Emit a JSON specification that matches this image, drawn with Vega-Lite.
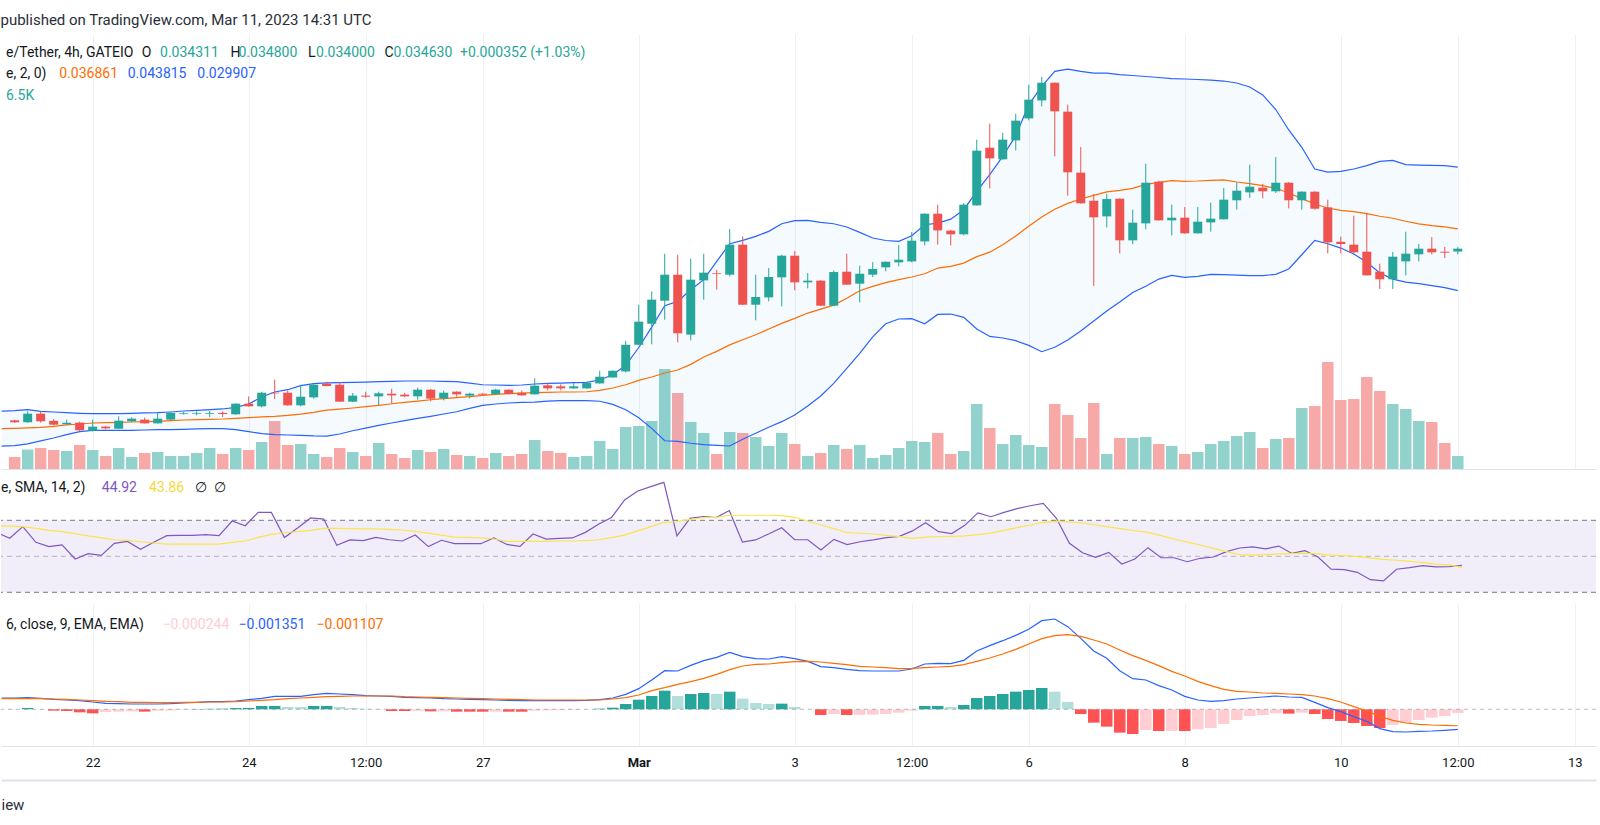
{
  "$schema": "https://vega.github.io/schema/vega-lite/v6.json",
  "description": "Token/Tether 4h candles with Bollinger bands, volume, RSI and MACD panes.",
  "background": "white",
  "padding": {"top": 13, "left": 0, "right": 0, "bottom": 0},
  "bounds": "flush",
  "spacing": 0,
  "title": {"text": "published on TradingView.com, Mar 11, 2023 14:31 UTC", "anchor": "start", "font": "Roboto", "fontSize": 15, "fontWeight": "normal", "color": "#2a2e39", "offset": 6},
  "data": {"values": [
    {"t":"2023-02-20T20:00:00Z","bu":0.01633,"bm":0.01436,"bl":0.0124,"rsi":63.3,"rma":67.0,"macd":0.00076,"sig":0.000716,"hist":0.00004},
    {"t":"2023-02-21T00:00:00Z","o":0.0153,"h":0.01538,"l":0.015,"c":0.01508,"v":24,"bu":0.01639,"bm":0.0144,"bl":0.01245,"rsi":60.0,"rma":66.8,"macd":0.00076,"sig":0.000716,"hist":0.00002},
    {"t":"2023-02-21T04:00:00Z","o":0.01508,"h":0.01631,"l":0.01504,"c":0.01605,"v":39,"bu":0.0165,"bm":0.01444,"bl":0.01264,"rsi":66.5,"rma":66.5,"macd":0.000783,"sig":0.000716,"hist":0.0000875},
    {"t":"2023-02-21T08:00:00Z","o":0.01605,"h":0.01628,"l":0.01504,"c":0.01519,"v":42,"bu":0.01631,"bm":0.01451,"bl":0.01298,"rsi":57.8,"rma":65.5,"macd":0.000738,"sig":0.000716,"hist":0.00002},
    {"t":"2023-02-21T12:00:00Z","o":0.01524,"h":0.01545,"l":0.01474,"c":0.01481,"v":38,"bu":0.01624,"bm":0.01463,"bl":0.01331,"rsi":55.4,"rma":64.4,"macd":0.000671,"sig":0.000693,"hist":-0.000092},
    {"t":"2023-02-21T16:00:00Z","o":0.01485,"h":0.01538,"l":0.01481,"c":0.01504,"v":36,"bu":0.01616,"bm":0.01478,"bl":0.01369,"rsi":56.3,"rma":63.7,"macd":0.000626,"sig":0.000671,"hist":-0.000114},
    {"t":"2023-02-21T20:00:00Z","o":0.01504,"h":0.01515,"l":0.01406,"c":0.01418,"v":48,"bu":0.01609,"bm":0.01489,"bl":0.01403,"rsi":48.5,"rma":62.6,"macd":0.000581,"sig":0.000626,"hist":-0.000204},
    {"t":"2023-02-22T00:00:00Z","o":0.01414,"h":0.01538,"l":0.01403,"c":0.01459,"v":38,"bu":0.01605,"bm":0.015,"bl":0.01418,"rsi":51.5,"rma":61.3,"macd":0.000491,"sig":0.000581,"hist":-0.000271},
    {"t":"2023-02-22T04:00:00Z","o":0.01459,"h":0.0147,"l":0.01429,"c":0.0144,"v":26,"bu":0.01605,"bm":0.01504,"bl":0.01418,"rsi":50.5,"rma":60.2,"macd":0.000402,"sig":0.000536,"hist":-0.000182},
    {"t":"2023-02-22T08:00:00Z","o":0.01436,"h":0.01575,"l":0.01433,"c":0.01526,"v":42,"bu":0.01605,"bm":0.01508,"bl":0.01418,"rsi":57.2,"rma":59.2,"macd":0.000379,"sig":0.000514,"hist":-0.000159},
    {"t":"2023-02-22T12:00:00Z","o":0.01519,"h":0.01564,"l":0.01511,"c":0.01549,"v":24,"bu":0.01609,"bm":0.01511,"bl":0.01418,"rsi":58.3,"rma":58.9,"macd":0.000357,"sig":0.000469,"hist":-0.000137},
    {"t":"2023-02-22T16:00:00Z","o":0.01538,"h":0.0156,"l":0.01493,"c":0.01496,"v":32,"bu":0.01613,"bm":0.01515,"bl":0.01421,"rsi":53.9,"rma":58.1,"macd":0.000357,"sig":0.000469,"hist":-0.000159},
    {"t":"2023-02-22T20:00:00Z","o":0.01496,"h":0.01613,"l":0.01493,"c":0.01549,"v":34,"bu":0.01616,"bm":0.01519,"bl":0.01425,"rsi":57.8,"rma":57.4,"macd":0.000357,"sig":0.000446,"hist":-0.000092},
    {"t":"2023-02-23T00:00:00Z","o":0.01538,"h":0.0162,"l":0.01534,"c":0.01613,"v":26,"bu":0.01624,"bm":0.01526,"bl":0.01425,"rsi":61.5,"rma":56.8,"macd":0.000379,"sig":0.000446,"hist":-0.00008},
    {"t":"2023-02-23T04:00:00Z","o":0.01601,"h":0.01624,"l":0.01594,"c":0.01609,"v":26,"bu":0.01635,"bm":0.01534,"bl":0.01429,"rsi":61.6,"rma":56.8,"macd":0.000424,"sig":0.000469,"hist":0.00001},
    {"t":"2023-02-23T08:00:00Z","o":0.01605,"h":0.01631,"l":0.01586,"c":0.01613,"v":32,"bu":0.01643,"bm":0.01538,"bl":0.01433,"rsi":61.6,"rma":56.8,"macd":0.000469,"sig":0.000469,"hist":0.00002},
    {"t":"2023-02-23T12:00:00Z","o":0.01605,"h":0.01635,"l":0.01568,"c":0.01613,"v":42,"bu":0.0165,"bm":0.01541,"bl":0.01436,"rsi":62.0,"rma":56.8,"macd":0.000514,"sig":0.000491,"hist":0.00003},
    {"t":"2023-02-23T16:00:00Z","o":0.01613,"h":0.01631,"l":0.01568,"c":0.01601,"v":30,"bu":0.01658,"bm":0.01545,"bl":0.01436,"rsi":61.5,"rma":56.8,"macd":0.000514,"sig":0.000491,"hist":0.00004},
    {"t":"2023-02-23T20:00:00Z","o":0.01598,"h":0.01721,"l":0.01594,"c":0.01718,"v":42,"bu":0.01676,"bm":0.01553,"bl":0.01425,"rsi":69.6,"rma":57.7,"macd":0.000559,"sig":0.000514,"hist":0.000085},
    {"t":"2023-02-24T00:00:00Z","o":0.01718,"h":0.018,"l":0.01684,"c":0.01688,"v":38,"bu":0.01714,"bm":0.0156,"bl":0.01403,"rsi":67.0,"rma":58.5,"macd":0.000648,"sig":0.000559,"hist":0.00009},
    {"t":"2023-02-24T04:00:00Z","o":0.01688,"h":0.01853,"l":0.01676,"c":0.01841,"v":54,"bu":0.01793,"bm":0.01568,"bl":0.0138,"rsi":74.4,"rma":60.5,"macd":0.000738,"sig":0.000603,"hist":0.000222},
    {"t":"2023-02-24T08:00:00Z","o":0.01841,"h":0.01988,"l":0.0177,"c":0.01834,"v":96,"bu":0.01849,"bm":0.01575,"bl":0.01369,"rsi":74.4,"rma":62.2,"macd":0.000873,"sig":0.000648,"hist":0.000225},
    {"t":"2023-02-24T12:00:00Z","o":0.01841,"h":0.01864,"l":0.01695,"c":0.01699,"v":48,"bu":0.01875,"bm":0.01586,"bl":0.01365,"rsi":60.4,"rma":63.1,"macd":0.000873,"sig":0.000716,"hist":0.000155},
    {"t":"2023-02-24T16:00:00Z","o":0.01699,"h":0.01931,"l":0.01688,"c":0.01796,"v":50,"bu":0.0192,"bm":0.01601,"bl":0.01361,"rsi":65.7,"rma":63.7,"macd":0.000873,"sig":0.00076,"hist":0.00015},
    {"t":"2023-02-24T20:00:00Z","o":0.01789,"h":0.01943,"l":0.01774,"c":0.01931,"v":30,"bu":0.01943,"bm":0.0162,"bl":0.01354,"rsi":71.3,"rma":64.4,"macd":0.000985,"sig":0.000805,"hist":0.000222},
    {"t":"2023-02-25T00:00:00Z","o":0.01943,"h":0.01965,"l":0.01913,"c":0.01916,"v":24,"bu":0.01952,"bm":0.01644,"bl":0.01352,"rsi":70.7,"rma":65.5,"macd":0.001074,"sig":0.00085,"hist":0.000225},
    {"t":"2023-02-25T04:00:00Z","o":0.01931,"h":0.01961,"l":0.01736,"c":0.0174,"v":42,"bu":0.01954,"bm":0.01657,"bl":0.01376,"rsi":56.1,"rma":65.5,"macd":0.00103,"sig":0.000873,"hist":0.000155},
    {"t":"2023-02-25T08:00:00Z","o":0.0174,"h":0.01837,"l":0.01736,"c":0.01808,"v":34,"bu":0.01958,"bm":0.01669,"bl":0.01413,"rsi":59.1,"rma":65.4,"macd":0.000985,"sig":0.000895,"hist":0.0000875},
    {"t":"2023-02-25T12:00:00Z","o":0.01808,"h":0.01852,"l":0.01785,"c":0.01796,"v":26,"bu":0.01961,"bm":0.01684,"bl":0.01443,"rsi":58.7,"rma":65.2,"macd":0.000917,"sig":0.000895,"hist":0.00004},
    {"t":"2023-02-25T16:00:00Z","o":0.018,"h":0.01852,"l":0.01699,"c":0.01834,"v":52,"bu":0.01965,"bm":0.01699,"bl":0.01473,"rsi":60.5,"rma":65.2,"macd":0.000895,"sig":0.000895,"hist":-0.00001},
    {"t":"2023-02-25T20:00:00Z","o":0.0183,"h":0.01886,"l":0.01721,"c":0.01811,"v":30,"bu":0.01969,"bm":0.01717,"bl":0.015,"rsi":59.2,"rma":65.0,"macd":0.000873,"sig":0.000895,"hist":-0.000114},
    {"t":"2023-02-26T00:00:00Z","o":0.01819,"h":0.01841,"l":0.01792,"c":0.018,"v":22,"bu":0.01973,"bm":0.01732,"bl":0.01526,"rsi":58.5,"rma":64.6,"macd":0.000805,"sig":0.00085,"hist":-0.000115},
    {"t":"2023-02-26T04:00:00Z","o":0.018,"h":0.01898,"l":0.01762,"c":0.01875,"v":38,"bu":0.01973,"bm":0.01747,"bl":0.01552,"rsi":61.8,"rma":63.9,"macd":0.000783,"sig":0.000828,"hist":-0.00011},
    {"t":"2023-02-26T08:00:00Z","o":0.01875,"h":0.01883,"l":0.01744,"c":0.01774,"v":34,"bu":0.01973,"bm":0.01762,"bl":0.01575,"rsi":55.4,"rma":62.9,"macd":0.00076,"sig":0.000805,"hist":-0.000137},
    {"t":"2023-02-26T12:00:00Z","o":0.01777,"h":0.01864,"l":0.01755,"c":0.01841,"v":40,"bu":0.01969,"bm":0.01774,"bl":0.01601,"rsi":58.9,"rma":61.8,"macd":0.000716,"sig":0.000783,"hist":-0.00013},
    {"t":"2023-02-26T16:00:00Z","o":0.01853,"h":0.01856,"l":0.01796,"c":0.01823,"v":28,"bu":0.01965,"bm":0.01785,"bl":0.01627,"rsi":57.0,"rma":60.7,"macd":0.000693,"sig":0.00076,"hist":-0.000159},
    {"t":"2023-02-26T20:00:00Z","o":0.01808,"h":0.01841,"l":0.01777,"c":0.0183,"v":26,"bu":0.0195,"bm":0.01796,"bl":0.01665,"rsi":57.0,"rma":60.5,"macd":0.000671,"sig":0.000738,"hist":-0.00016},
    {"t":"2023-02-27T00:00:00Z","o":0.0183,"h":0.01837,"l":0.01811,"c":0.01819,"v":22,"bu":0.01931,"bm":0.01811,"bl":0.01699,"rsi":57.0,"rma":60.2,"macd":0.000648,"sig":0.000716,"hist":-0.000161},
    {"t":"2023-02-27T04:00:00Z","o":0.01826,"h":0.01886,"l":0.01823,"c":0.01875,"v":32,"bu":0.01928,"bm":0.01822,"bl":0.01714,"rsi":60.2,"rma":59.6,"macd":0.000626,"sig":0.000693,"hist":-0.000155},
    {"t":"2023-02-27T08:00:00Z","o":0.01875,"h":0.01879,"l":0.01823,"c":0.01826,"v":26,"bu":0.01924,"bm":0.0183,"bl":0.01725,"rsi":56.6,"rma":58.3,"macd":0.000603,"sig":0.000671,"hist":-0.00016},
    {"t":"2023-02-27T12:00:00Z","o":0.01841,"h":0.01864,"l":0.01808,"c":0.01811,"v":30,"bu":0.01928,"bm":0.01837,"bl":0.01732,"rsi":55.5,"rma":58.3,"macd":0.000581,"sig":0.000648,"hist":-0.000162},
    {"t":"2023-02-27T16:00:00Z","o":0.01823,"h":0.02003,"l":0.01819,"c":0.0192,"v":58,"bu":0.01939,"bm":0.01841,"bl":0.01736,"rsi":62.4,"rma":58.3,"macd":0.000581,"sig":0.000626,"hist":-0.000092},
    {"t":"2023-02-27T20:00:00Z","o":0.01924,"h":0.0195,"l":0.01868,"c":0.0189,"v":36,"bu":0.01946,"bm":0.01845,"bl":0.01747,"rsi":59.6,"rma":58.3,"macd":0.000581,"sig":0.000626,"hist":-0.00007},
    {"t":"2023-02-28T00:00:00Z","o":0.01913,"h":0.01935,"l":0.01868,"c":0.0189,"v":32,"bu":0.0195,"bm":0.01849,"bl":0.01751,"rsi":60.0,"rma":58.5,"macd":0.000581,"sig":0.000626,"hist":-0.00006},
    {"t":"2023-02-28T04:00:00Z","o":0.0189,"h":0.0195,"l":0.01883,"c":0.01913,"v":24,"bu":0.01954,"bm":0.01849,"bl":0.01751,"rsi":60.2,"rma":58.5,"macd":0.000581,"sig":0.000626,"hist":-0.00005},
    {"t":"2023-02-28T08:00:00Z","o":0.0189,"h":0.01965,"l":0.01886,"c":0.0195,"v":26,"bu":0.01958,"bm":0.01852,"bl":0.01751,"rsi":63.3,"rma":58.7,"macd":0.000603,"sig":0.000626,"hist":-0.00001},
    {"t":"2023-02-28T12:00:00Z","o":0.01946,"h":0.02088,"l":0.01943,"c":0.02021,"v":56,"bu":0.01984,"bm":0.01867,"bl":0.01745,"rsi":67.8,"rma":59.2,"macd":0.000648,"sig":0.000626,"hist":0.00004},
    {"t":"2023-02-28T16:00:00Z","o":0.02013,"h":0.02092,"l":0.0201,"c":0.02088,"v":40,"bu":0.02044,"bm":0.01894,"bl":0.0171,"rsi":71.6,"rma":60.4,"macd":0.00076,"sig":0.000693,"hist":0.00011},
    {"t":"2023-02-28T20:00:00Z","o":0.02081,"h":0.02426,"l":0.0207,"c":0.02381,"v":84,"bu":0.0215,"bm":0.01931,"bl":0.0165,"rsi":81.3,"rma":61.8,"macd":0.001007,"sig":0.000783,"hist":0.000357},
    {"t":"2023-03-01T00:00:00Z","o":0.02381,"h":0.02832,"l":0.02381,"c":0.02641,"v":86,"bu":0.0235,"bm":0.0198,"bl":0.0156,"rsi":86.3,"rma":64.1,"macd":0.001388,"sig":0.000962,"hist":0.000648},
    {"t":"2023-03-01T04:00:00Z","o":0.02618,"h":0.0298,"l":0.02386,"c":0.02889,"v":96,"bu":0.0258,"bm":0.02018,"bl":0.0144,"rsi":88.7,"rma":66.5,"macd":0.001972,"sig":0.001254,"hist":0.000895},
    {"t":"2023-03-01T08:00:00Z","o":0.02877,"h":0.03406,"l":0.02663,"c":0.0317,"v":200,"bu":0.0282,"bm":0.02063,"bl":0.013,"rsi":91.1,"rma":68.9,"macd":0.0026,"sig":0.001456,"hist":0.001254},
    {"t":"2023-03-01T12:00:00Z","o":0.0317,"h":0.03394,"l":0.02408,"c":0.0251,"v":152,"bu":0.02869,"bm":0.02097,"bl":0.01294,"rsi":61.3,"rma":69.2,"macd":0.002577,"sig":0.00168,"hist":0.000895},
    {"t":"2023-03-01T16:00:00Z","o":0.02495,"h":0.03351,"l":0.0243,"c":0.03114,"v":94,"bu":0.03001,"bm":0.0216,"bl":0.01272,"rsi":71.1,"rma":70.5,"macd":0.002959,"sig":0.001859,"hist":0.00103},
    {"t":"2023-03-01T20:00:00Z","o":0.03106,"h":0.03406,"l":0.02889,"c":0.03193,"v":72,"bu":0.03114,"bm":0.02243,"bl":0.01256,"rsi":72.0,"rma":71.5,"macd":0.003273,"sig":0.002084,"hist":0.001097},
    {"t":"2023-03-02T00:00:00Z","o":0.03189,"h":0.03226,"l":0.03001,"c":0.03181,"v":30,"bu":0.0332,"bm":0.02307,"bl":0.01249,"rsi":71.5,"rma":71.6,"macd":0.003497,"sig":0.002353,"hist":0.00103},
    {"t":"2023-03-02T04:00:00Z","o":0.0317,"h":0.03684,"l":0.03151,"c":0.03508,"v":74,"bu":0.03519,"bm":0.0238,"bl":0.01241,"rsi":75.4,"rma":72.8,"macd":0.003833,"sig":0.002667,"hist":0.001187},
    {"t":"2023-03-02T08:00:00Z","o":0.03508,"h":0.03602,"l":0.02828,"c":0.02832,"v":72,"bu":0.03557,"bm":0.02438,"bl":0.01317,"rsi":57.9,"rma":72.8,"macd":0.003542,"sig":0.002914,"hist":0.000716},
    {"t":"2023-03-02T12:00:00Z","o":0.02832,"h":0.0317,"l":0.02656,"c":0.02919,"v":64,"bu":0.03601,"bm":0.02494,"bl":0.01384,"rsi":59.1,"rma":72.8,"macd":0.003407,"sig":0.003026,"hist":0.000424},
    {"t":"2023-03-02T16:00:00Z","o":0.02915,"h":0.03245,"l":0.0287,"c":0.03144,"v":46,"bu":0.03658,"bm":0.02558,"bl":0.01452,"rsi":62.4,"rma":72.8,"macd":0.003385,"sig":0.003049,"hist":0.000357},
    {"t":"2023-03-02T20:00:00Z","o":0.0314,"h":0.03394,"l":0.02813,"c":0.03384,"v":72,"bu":0.03744,"bm":0.02622,"bl":0.01515,"rsi":65.9,"rma":72.6,"macd":0.003542,"sig":0.003138,"hist":0.00038},
    {"t":"2023-03-03T00:00:00Z","o":0.03384,"h":0.03436,"l":0.02994,"c":0.03084,"v":50,"bu":0.03778,"bm":0.02678,"bl":0.0159,"rsi":59.2,"rma":71.6,"macd":0.003407,"sig":0.003206,"hist":0.000155},
    {"t":"2023-03-03T04:00:00Z","o":0.03084,"h":0.03189,"l":0.03016,"c":0.03103,"v":26,"bu":0.03782,"bm":0.02738,"bl":0.01691,"rsi":59.2,"rma":69.6,"macd":0.003228,"sig":0.003228,"hist":0.000005},
    {"t":"2023-03-03T08:00:00Z","o":0.03103,"h":0.0311,"l":0.02817,"c":0.02821,"v":32,"bu":0.03759,"bm":0.02783,"bl":0.01804,"rsi":53.5,"rma":67.4,"macd":0.002869,"sig":0.003183,"hist":-0.000384},
    {"t":"2023-03-03T12:00:00Z","o":0.02821,"h":0.03219,"l":0.02817,"c":0.032,"v":48,"bu":0.03744,"bm":0.02828,"bl":0.01947,"rsi":59.4,"rma":65.4,"macd":0.002801,"sig":0.003094,"hist":-0.000316},
    {"t":"2023-03-03T16:00:00Z","o":0.03204,"h":0.03406,"l":0.03054,"c":0.03058,"v":40,"bu":0.03707,"bm":0.02904,"bl":0.02116,"rsi":56.5,"rma":63.1,"macd":0.002689,"sig":0.003004,"hist":-0.000384},
    {"t":"2023-03-03T20:00:00Z","o":0.03069,"h":0.03271,"l":0.02859,"c":0.03181,"v":48,"bu":0.03647,"bm":0.0299,"bl":0.02285,"rsi":58.1,"rma":62.8,"macd":0.0026,"sig":0.002892,"hist":-0.00037},
    {"t":"2023-03-04T00:00:00Z","o":0.0317,"h":0.03312,"l":0.03144,"c":0.03234,"v":22,"bu":0.03583,"bm":0.03039,"bl":0.0247,"rsi":59.1,"rma":62.4,"macd":0.002577,"sig":0.002847,"hist":-0.00036},
    {"t":"2023-03-04T04:00:00Z","o":0.03253,"h":0.0332,"l":0.03208,"c":0.03316,"v":28,"bu":0.03555,"bm":0.0308,"bl":0.02618,"rsi":60.4,"rma":61.6,"macd":0.002577,"sig":0.002802,"hist":-0.000316},
    {"t":"2023-03-04T08:00:00Z","o":0.03309,"h":0.03504,"l":0.03264,"c":0.03339,"v":42,"bu":0.03545,"bm":0.03114,"bl":0.02671,"rsi":61.1,"rma":60.9,"macd":0.002577,"sig":0.002735,"hist":-0.000227},
    {"t":"2023-03-04T12:00:00Z","o":0.0332,"h":0.0365,"l":0.03309,"c":0.03553,"v":56,"bu":0.03609,"bm":0.03144,"bl":0.02675,"rsi":64.1,"rma":60.0,"macd":0.002712,"sig":0.002757,"hist":-0.000092},
    {"t":"2023-03-04T16:00:00Z","o":0.03545,"h":0.03861,"l":0.035,"c":0.03857,"v":54,"bu":0.03733,"bm":0.03181,"bl":0.02618,"rsi":68.7,"rma":60.7,"macd":0.003049,"sig":0.002802,"hist":0.000222},
    {"t":"2023-03-04T20:00:00Z","o":0.03857,"h":0.03958,"l":0.03508,"c":0.03669,"v":72,"bu":0.03751,"bm":0.03245,"bl":0.02723,"rsi":63.7,"rma":60.9,"macd":0.003093,"sig":0.002847,"hist":0.000225},
    {"t":"2023-03-05T00:00:00Z","o":0.03666,"h":0.03677,"l":0.035,"c":0.03625,"v":30,"bu":0.03796,"bm":0.03264,"bl":0.02727,"rsi":62.6,"rma":61.1,"macd":0.003071,"sig":0.002891,"hist":0.000155},
    {"t":"2023-03-05T04:00:00Z","o":0.03625,"h":0.03977,"l":0.03613,"c":0.03959,"v":36,"bu":0.03902,"bm":0.03301,"bl":0.02689,"rsi":67.2,"rma":61.3,"macd":0.003295,"sig":0.003004,"hist":0.00029},
    {"t":"2023-03-05T08:00:00Z","o":0.03951,"h":0.04691,"l":0.03948,"c":0.04567,"v":130,"bu":0.04109,"bm":0.03373,"bl":0.02558,"rsi":74.1,"rma":62.0,"macd":0.003923,"sig":0.003228,"hist":0.00076},
    {"t":"2023-03-05T12:00:00Z","o":0.046,"h":0.0487,"l":0.04142,"c":0.0448,"v":82,"bu":0.04296,"bm":0.03424,"bl":0.02475,"rsi":72.0,"rma":62.9,"macd":0.004282,"sig":0.003452,"hist":0.000895},
    {"t":"2023-03-05T16:00:00Z","o":0.04469,"h":0.04769,"l":0.04465,"c":0.04691,"v":50,"bu":0.04503,"bm":0.03508,"bl":0.02457,"rsi":74.4,"rma":64.4,"macd":0.004618,"sig":0.003721,"hist":0.00103},
    {"t":"2023-03-05T20:00:00Z","o":0.04683,"h":0.04983,"l":0.0457,"c":0.04905,"v":68,"bu":0.04736,"bm":0.03606,"bl":0.02427,"rsi":76.5,"rma":65.9,"macd":0.004977,"sig":0.004035,"hist":0.001187},
    {"t":"2023-03-06T00:00:00Z","o":0.0493,"h":0.0531,"l":0.04908,"c":0.05141,"v":48,"bu":0.05085,"bm":0.03715,"bl":0.02374,"rsi":78.1,"rma":67.4,"macd":0.005381,"sig":0.004394,"hist":0.001299},
    {"t":"2023-03-06T04:00:00Z","o":0.05133,"h":0.05396,"l":0.05066,"c":0.05332,"v":44,"bu":0.05291,"bm":0.0382,"bl":0.02303,"rsi":79.4,"rma":68.9,"macd":0.005964,"sig":0.004753,"hist":0.001433},
    {"t":"2023-03-06T08:00:00Z","o":0.05332,"h":0.05336,"l":0.04503,"c":0.0501,"v":130,"bu":0.0546,"bm":0.03908,"bl":0.02353,"rsi":71.1,"rma":69.4,"macd":0.006076,"sig":0.004955,"hist":0.001187},
    {"t":"2023-03-06T12:00:00Z","o":0.05006,"h":0.05085,"l":0.0406,"c":0.04323,"v":108,"bu":0.05486,"bm":0.03973,"bl":0.02435,"rsi":57.2,"rma":69.1,"macd":0.005561,"sig":0.005022,"hist":0.000491},
    {"t":"2023-03-06T16:00:00Z","o":0.04319,"h":0.04608,"l":0.0397,"c":0.03974,"v":62,"bu":0.0546,"bm":0.04022,"bl":0.02536,"rsi":52.0,"rma":68.5,"macd":0.004776,"sig":0.004911,"hist":-0.000316},
    {"t":"2023-03-06T20:00:00Z","o":0.04003,"h":0.04079,"l":0.03044,"c":0.03816,"v":132,"bu":0.05441,"bm":0.04064,"bl":0.02649,"rsi":49.4,"rma":67.4,"macd":0.003923,"sig":0.004664,"hist":-0.0009},
    {"t":"2023-03-07T00:00:00Z","o":0.03827,"h":0.04082,"l":0.03703,"c":0.04022,"v":30,"bu":0.05441,"bm":0.04102,"bl":0.02761,"rsi":52.2,"rma":66.3,"macd":0.00343,"sig":0.004394,"hist":-0.001168},
    {"t":"2023-03-07T04:00:00Z","o":0.04026,"h":0.0403,"l":0.0341,"c":0.03557,"v":62,"bu":0.05424,"bm":0.0412,"bl":0.02863,"rsi":45.7,"rma":65.2,"macd":0.0026,"sig":0.003991,"hist":-0.001572},
    {"t":"2023-03-07T08:00:00Z","o":0.03557,"h":0.03902,"l":0.03512,"c":0.03756,"v":62,"bu":0.05413,"bm":0.04143,"bl":0.0297,"rsi":48.5,"rma":64.2,"macd":0.002061,"sig":0.003609,"hist":-0.001662},
    {"t":"2023-03-07T12:00:00Z","o":0.03748,"h":0.0442,"l":0.03681,"c":0.04206,"v":64,"bu":0.05402,"bm":0.04188,"bl":0.0304,"rsi":54.8,"rma":63.3,"macd":0.001972,"sig":0.003295,"hist":-0.001393},
    {"t":"2023-03-07T16:00:00Z","o":0.04218,"h":0.04229,"l":0.03778,"c":0.03782,"v":50,"bu":0.05391,"bm":0.0421,"bl":0.03121,"rsi":49.2,"rma":61.5,"macd":0.00159,"sig":0.002936,"hist":-0.00146},
    {"t":"2023-03-07T20:00:00Z","o":0.03782,"h":0.03959,"l":0.03613,"c":0.03812,"v":46,"bu":0.05379,"bm":0.04229,"bl":0.03163,"rsi":49.2,"rma":59.6,"macd":0.001299,"sig":0.002555,"hist":-0.00145},
    {"t":"2023-03-08T00:00:00Z","o":0.03812,"h":0.03932,"l":0.03632,"c":0.03636,"v":30,"bu":0.05374,"bm":0.04222,"bl":0.0314,"rsi":47.0,"rma":57.9,"macd":0.000872,"sig":0.002241,"hist":-0.00146},
    {"t":"2023-03-08T04:00:00Z","o":0.03636,"h":0.03932,"l":0.03632,"c":0.03767,"v":34,"bu":0.05368,"bm":0.04225,"bl":0.03151,"rsi":48.9,"rma":56.3,"macd":0.000625,"sig":0.001882,"hist":-0.001348},
    {"t":"2023-03-08T08:00:00Z","o":0.03759,"h":0.03981,"l":0.03654,"c":0.03801,"v":50,"bu":0.05362,"bm":0.04233,"bl":0.03174,"rsi":49.6,"rma":54.4,"macd":0.000536,"sig":0.00159,"hist":-0.001258},
    {"t":"2023-03-08T12:00:00Z","o":0.03794,"h":0.04146,"l":0.0379,"c":0.04015,"v":56,"bu":0.05351,"bm":0.04237,"bl":0.0317,"rsi":52.6,"rma":52.6,"macd":0.000581,"sig":0.001344,"hist":-0.000989},
    {"t":"2023-03-08T16:00:00Z","o":0.04008,"h":0.0421,"l":0.03902,"c":0.04116,"v":66,"bu":0.05329,"bm":0.04214,"bl":0.03166,"rsi":54.6,"rma":50.9,"macd":0.000693,"sig":0.001209,"hist":-0.00072},
    {"t":"2023-03-08T20:00:00Z","o":0.04097,"h":0.04409,"l":0.04034,"c":0.04161,"v":74,"bu":0.05284,"bm":0.04195,"bl":0.03159,"rsi":55.2,"rma":50.7,"macd":0.00076,"sig":0.001164,"hist":-0.000451},
    {"t":"2023-03-09T00:00:00Z","o":0.0415,"h":0.04194,"l":0.0403,"c":0.04109,"v":42,"bu":0.05194,"bm":0.04173,"bl":0.03159,"rsi":54.1,"rma":50.9,"macd":0.000828,"sig":0.001097,"hist":-0.000384},
    {"t":"2023-03-09T04:00:00Z","o":0.04109,"h":0.04495,"l":0.0409,"c":0.04206,"v":60,"bu":0.0503,"bm":0.04143,"bl":0.03174,"rsi":55.7,"rma":51.3,"macd":0.000895,"sig":0.001074,"hist":-0.000271},
    {"t":"2023-03-09T08:00:00Z","o":0.04206,"h":0.04213,"l":0.03917,"c":0.04008,"v":62,"bu":0.048,"bm":0.0409,"bl":0.03234,"rsi":51.6,"rma":51.5,"macd":0.000828,"sig":0.00103,"hist":-0.00029},
    {"t":"2023-03-09T12:00:00Z","o":0.04008,"h":0.04109,"l":0.03902,"c":0.04105,"v":122,"bu":0.04605,"bm":0.04027,"bl":0.03395,"rsi":53.1,"rma":51.8,"macd":0.000805,"sig":0.000985,"hist":-0.000227},
    {"t":"2023-03-09T16:00:00Z","o":0.04105,"h":0.04109,"l":0.03902,"c":0.03913,"v":126,"bu":0.0436,"bm":0.03966,"bl":0.03557,"rsi":49.6,"rma":51.3,"macd":0.000469,"sig":0.000895,"hist":-0.000316},
    {"t":"2023-03-09T20:00:00Z","o":0.03928,"h":0.04015,"l":0.0341,"c":0.03534,"v":214,"bu":0.04326,"bm":0.03921,"bl":0.03519,"rsi":42.9,"rma":50.7,"macd":0.00011,"sig":0.000716,"hist":-0.000653},
    {"t":"2023-03-10T00:00:00Z","o":0.03541,"h":0.03598,"l":0.0341,"c":0.03516,"v":138,"bu":0.04334,"bm":0.03895,"bl":0.0347,"rsi":42.6,"rma":50.4,"macd":-0.000159,"sig":0.000491,"hist":-0.000785},
    {"t":"2023-03-10T04:00:00Z","o":0.03508,"h":0.03835,"l":0.0341,"c":0.03422,"v":140,"bu":0.0436,"bm":0.0388,"bl":0.03403,"rsi":41.1,"rma":49.8,"macd":-0.000496,"sig":0.000177,"hist":-0.00092},
    {"t":"2023-03-10T08:00:00Z","o":0.03429,"h":0.03857,"l":0.03159,"c":0.03163,"v":184,"bu":0.04398,"bm":0.03858,"bl":0.03309,"rsi":37.0,"rma":49.1,"macd":-0.00081,"sig":-0.000114,"hist":-0.001124},
    {"t":"2023-03-10T12:00:00Z","o":0.03204,"h":0.03294,"l":0.03009,"c":0.03118,"v":156,"bu":0.04446,"bm":0.03828,"bl":0.03189,"rsi":36.3,"rma":48.3,"macd":-0.001302,"sig":-0.000473,"hist":-0.001258},
    {"t":"2023-03-10T16:00:00Z","o":0.03118,"h":0.03425,"l":0.03009,"c":0.03373,"v":130,"bu":0.04458,"bm":0.03806,"bl":0.03121,"rsi":42.8,"rma":47.8,"macd":-0.001505,"sig":-0.000742,"hist":-0.001056},
    {"t":"2023-03-10T20:00:00Z","o":0.0332,"h":0.03654,"l":0.03163,"c":0.03407,"v":120,"bu":0.04409,"bm":0.03772,"bl":0.03087,"rsi":43.7,"rma":47.2,"macd":-0.001527,"sig":-0.000922,"hist":-0.00092},
    {"t":"2023-03-11T00:00:00Z","o":0.03399,"h":0.03516,"l":0.0332,"c":0.03463,"v":96,"bu":0.04405,"bm":0.03742,"bl":0.03069,"rsi":44.8,"rma":46.5,"macd":-0.001482,"sig":-0.001012,"hist":-0.00072},
    {"t":"2023-03-11T04:00:00Z","o":0.03463,"h":0.03594,"l":0.03399,"c":0.03422,"v":94,"bu":0.04401,"bm":0.03723,"bl":0.03046,"rsi":44.1,"rma":45.7,"macd":-0.00146,"sig":-0.001056,"hist":-0.000563},
    {"t":"2023-03-11T08:00:00Z","o":0.03429,"h":0.03482,"l":0.03358,"c":0.03418,"v":52,"bu":0.04398,"bm":0.03708,"bl":0.03024,"rsi":44.2,"rma":45.2,"macd":-0.001415,"sig":-0.001079,"hist":-0.000451},
    {"t":"2023-03-11T12:00:00Z","o":0.034311,"h":0.0348,"l":0.034,"c":0.03463,"v":26,"bu":0.043815,"bm":0.036861,"bl":0.029907,"rsi":44.92,"rma":43.86,"macd":-0.001351,"sig":-0.001107,"hist":-0.000244}
  ]},
  "vconcat": [
    {
      "width": 1595,
      "height": 435,
      "resolve": {"scale": {"y": "independent"}, "axis": {"x": "independent", "y": "independent"}},
      "layer": [
        {
          "transform": [{"filter": "isValid(datum.o)"}],
          "mark": {"type": "bar", "size": 11.5},
          "encoding": {
            "x": {"field": "t", "type": "temporal", "scale": {"type": "utc", "domain": [{"year":2023,"month":2,"date":20,"hours":21,"minutes":20,"utc":true},{"year":2023,"month":3,"date":13,"hours":4,"minutes":59,"utc":true}]},
              "axis": {"orient": "bottom", "values": [{"year":2023,"month":2,"date":22,"utc":true},{"year":2023,"month":2,"date":24,"utc":true},{"year":2023,"month":2,"date":25,"hours":12,"utc":true},{"year":2023,"month":2,"date":27,"utc":true},{"year":2023,"month":3,"date":1,"utc":true},{"year":2023,"month":3,"date":3,"utc":true},{"year":2023,"month":3,"date":4,"hours":12,"utc":true},{"year":2023,"month":3,"date":6,"utc":true},{"year":2023,"month":3,"date":8,"utc":true},{"year":2023,"month":3,"date":10,"utc":true},{"year":2023,"month":3,"date":11,"hours":12,"utc":true},{"year":2023,"month":3,"date":13,"utc":true}],
                "labels": false, "ticks": false, "grid": true, "gridColor": "#eef0f5", "domain": true, "domainColor": "#e0e3eb", "title": null}},
            "y": {"field": "v", "type": "quantitative", "scale": {"domain": [0, 870], "nice": false}, "axis": null},
            "color": {"condition": {"test": "datum.c >= datum.o", "value": "#92d2cc"}, "value": "#f7a9a8"}
          }
        },
        {
          "layer": [
            {
              "mark": {"type": "area", "color": "#2196f3", "opacity": 0.05, "clip": true},
              "encoding": {
                "x": {"field": "t", "type": "temporal", "scale": {"type": "utc", "domain": [{"year":2023,"month":2,"date":20,"hours":21,"minutes":20,"utc":true},{"year":2023,"month":3,"date":13,"hours":4,"minutes":59,"utc":true}]},
                  "axis": {"orient": "top", "labels": false, "ticks": false, "grid": false, "domain": true, "domainColor": "#dfe2ea", "domainWidth": 2, "title": null}},
                "y": {"field": "bu", "type": "quantitative", "scale": {"domain": [0.00982, 0.058806], "zero": false, "nice": false},
                  "axis": {"orient": "right", "values": [0.015, 0.02, 0.025, 0.03, 0.035, 0.04, 0.045, 0.05, 0.055], "labels": false, "ticks": false, "grid": true, "gridColor": "#eef0f5", "domainColor": "#a3a6af", "title": null}},
                "y2": {"field": "bl"}
              }
            },
            {
              "mark": {"type": "line", "color": "#2962ff", "strokeWidth": 1.2, "clip": true},
              "encoding": {
                "x": {"field": "t", "type": "temporal", "scale": {"type": "utc", "domain": [{"year":2023,"month":2,"date":20,"hours":21,"minutes":20,"utc":true},{"year":2023,"month":3,"date":13,"hours":4,"minutes":59,"utc":true}]}, "axis": null},
                "y": {"field": "bu", "type": "quantitative", "scale": {"domain": [0.00982, 0.058806], "zero": false, "nice": false}, "axis": null}
              }
            },
            {
              "mark": {"type": "line", "color": "#2962ff", "strokeWidth": 1.2, "clip": true},
              "encoding": {
                "x": {"field": "t", "type": "temporal", "scale": {"type": "utc", "domain": [{"year":2023,"month":2,"date":20,"hours":21,"minutes":20,"utc":true},{"year":2023,"month":3,"date":13,"hours":4,"minutes":59,"utc":true}]}, "axis": null},
                "y": {"field": "bl", "type": "quantitative", "scale": {"domain": [0.00982, 0.058806], "zero": false, "nice": false}, "axis": null}
              }
            },
            {
              "mark": {"type": "line", "color": "#ff6d00", "strokeWidth": 1.2, "clip": true},
              "encoding": {
                "x": {"field": "t", "type": "temporal", "scale": {"type": "utc", "domain": [{"year":2023,"month":2,"date":20,"hours":21,"minutes":20,"utc":true},{"year":2023,"month":3,"date":13,"hours":4,"minutes":59,"utc":true}]}, "axis": null},
                "y": {"field": "bm", "type": "quantitative", "scale": {"domain": [0.00982, 0.058806], "zero": false, "nice": false}, "axis": null}
              }
            },
            {
              "transform": [{"filter": "isValid(datum.o)"}],
              "mark": {"type": "rule", "strokeWidth": 1},
              "encoding": {
                "x": {"field": "t", "type": "temporal", "scale": {"type": "utc", "domain": [{"year":2023,"month":2,"date":20,"hours":21,"minutes":20,"utc":true},{"year":2023,"month":3,"date":13,"hours":4,"minutes":59,"utc":true}]}, "axis": null},
                "y": {"field": "l", "type": "quantitative", "scale": {"domain": [0.00982, 0.058806], "zero": false, "nice": false}, "axis": null},
                "y2": {"field": "h"},
                "color": {"condition": {"test": "datum.c >= datum.o", "value": "#26a69a"}, "value": "#ef5350"}
              }
            },
            {
              "transform": [{"filter": "isValid(datum.o)"}],
              "mark": {"type": "bar", "size": 9},
              "encoding": {
                "x": {"field": "t", "type": "temporal", "scale": {"type": "utc", "domain": [{"year":2023,"month":2,"date":20,"hours":21,"minutes":20,"utc":true},{"year":2023,"month":3,"date":13,"hours":4,"minutes":59,"utc":true}]}, "axis": null},
                "y": {"field": "o", "type": "quantitative", "scale": {"domain": [0.00982, 0.058806], "zero": false, "nice": false}, "axis": null},
                "y2": {"field": "c"},
                "color": {"condition": {"test": "datum.c >= datum.o", "value": "#26a69a"}, "value": "#ef5350"}
              }
            },
            {"data": {"values": [{}]}, "mark": {"type": "text", "align": "left", "baseline": "middle", "font": "Roboto", "fontSize": 14, "color": "#131722", "text": "e/Tether, 4h, GATEIO"},
              "encoding": {"x": {"datum": {"year":2023,"month":2,"date":20,"hours":21,"minutes":20,"utc":true}, "type": "temporal", "axis": null}, "y": {"datum": 0.05667, "type": "quantitative", "axis": null}}},
            {"data": {"values": [{}]}, "mark": {"type": "text", "align": "left", "baseline": "middle", "font": "Roboto", "fontSize": 14, "color": "#131722", "text": "O"},
              "encoding": {"x": {"datum": {"year":2023,"month":2,"date":22,"hours":15,"minutes":6,"utc":true}, "type": "temporal", "axis": null}, "y": {"datum": 0.05667, "type": "quantitative", "axis": null}}},
            {"data": {"values": [{}]}, "mark": {"type": "text", "align": "left", "baseline": "middle", "font": "Roboto", "fontSize": 14, "color": "#26a69a", "text": "0.034311"},
              "encoding": {"x": {"datum": {"year":2023,"month":2,"date":22,"hours":20,"minutes":43,"utc":true}, "type": "temporal", "axis": null}, "y": {"datum": 0.05667, "type": "quantitative", "axis": null}}},
            {"data": {"values": [{}]}, "mark": {"type": "text", "align": "left", "baseline": "middle", "font": "Roboto", "fontSize": 14, "color": "#131722", "text": "H"},
              "encoding": {"x": {"datum": {"year":2023,"month":2,"date":23,"hours":18,"minutes":22,"utc":true}, "type": "temporal", "axis": null}, "y": {"datum": 0.05667, "type": "quantitative", "axis": null}}},
            {"data": {"values": [{}]}, "mark": {"type": "text", "align": "left", "baseline": "middle", "font": "Roboto", "fontSize": 14, "color": "#26a69a", "text": "0.034800"},
              "encoding": {"x": {"datum": {"year":2023,"month":2,"date":23,"hours":20,"minutes":52,"utc":true}, "type": "temporal", "axis": null}, "y": {"datum": 0.05667, "type": "quantitative", "axis": null}}},
            {"data": {"values": [{}]}, "mark": {"type": "text", "align": "left", "baseline": "middle", "font": "Roboto", "fontSize": 14, "color": "#131722", "text": "L"},
              "encoding": {"x": {"datum": {"year":2023,"month":2,"date":24,"hours":18,"minutes":17,"utc":true}, "type": "temporal", "axis": null}, "y": {"datum": 0.05667, "type": "quantitative", "axis": null}}},
            {"data": {"values": [{}]}, "mark": {"type": "text", "align": "left", "baseline": "middle", "font": "Roboto", "fontSize": 14, "color": "#26a69a", "text": "0.034000"},
              "encoding": {"x": {"datum": {"year":2023,"month":2,"date":24,"hours":20,"minutes":43,"utc":true}, "type": "temporal", "axis": null}, "y": {"datum": 0.05667, "type": "quantitative", "axis": null}}},
            {"data": {"values": [{}]}, "mark": {"type": "text", "align": "left", "baseline": "middle", "font": "Roboto", "fontSize": 14, "color": "#131722", "text": "C"},
              "encoding": {"x": {"datum": {"year":2023,"month":2,"date":25,"hours":17,"minutes":49,"utc":true}, "type": "temporal", "axis": null}, "y": {"datum": 0.05667, "type": "quantitative", "axis": null}}},
            {"data": {"values": [{}]}, "mark": {"type": "text", "align": "left", "baseline": "middle", "font": "Roboto", "fontSize": 14, "color": "#26a69a", "text": "0.034630"},
              "encoding": {"x": {"datum": {"year":2023,"month":2,"date":25,"hours":20,"minutes":34,"utc":true}, "type": "temporal", "axis": null}, "y": {"datum": 0.05667, "type": "quantitative", "axis": null}}},
            {"data": {"values": [{}]}, "mark": {"type": "text", "align": "left", "baseline": "middle", "font": "Roboto", "fontSize": 14, "color": "#26a69a", "text": "+0.000352 (+1.03%)"},
              "encoding": {"x": {"datum": {"year":2023,"month":2,"date":26,"hours":17,"minutes":3,"utc":true}, "type": "temporal", "axis": null}, "y": {"datum": 0.05667, "type": "quantitative", "axis": null}}},
            {"data": {"values": [{}]}, "mark": {"type": "text", "align": "left", "baseline": "middle", "font": "Roboto", "fontSize": 14, "color": "#131722", "text": "e, 2, 0)"},
              "encoding": {"x": {"datum": {"year":2023,"month":2,"date":20,"hours":21,"minutes":20,"utc":true}, "type": "temporal", "axis": null}, "y": {"datum": 0.05431, "type": "quantitative", "axis": null}}},
            {"data": {"values": [{}]}, "mark": {"type": "text", "align": "left", "baseline": "middle", "font": "Roboto", "fontSize": 14, "color": "#ff6d00", "text": "0.036861"},
              "encoding": {"x": {"datum": {"year":2023,"month":2,"date":21,"hours":13,"minutes":43,"utc":true}, "type": "temporal", "axis": null}, "y": {"datum": 0.05431, "type": "quantitative", "axis": null}}},
            {"data": {"values": [{}]}, "mark": {"type": "text", "align": "left", "baseline": "middle", "font": "Roboto", "fontSize": 14, "color": "#2962ff", "text": "0.043815"},
              "encoding": {"x": {"datum": {"year":2023,"month":2,"date":22,"hours":10,"minutes":47,"utc":true}, "type": "temporal", "axis": null}, "y": {"datum": 0.05431, "type": "quantitative", "axis": null}}},
            {"data": {"values": [{}]}, "mark": {"type": "text", "align": "left", "baseline": "middle", "font": "Roboto", "fontSize": 14, "color": "#2962ff", "text": "0.029907"},
              "encoding": {"x": {"datum": {"year":2023,"month":2,"date":23,"hours":8,"minutes":11,"utc":true}, "type": "temporal", "axis": null}, "y": {"datum": 0.05431, "type": "quantitative", "axis": null}}},
            {"data": {"values": [{}]}, "mark": {"type": "text", "align": "left", "baseline": "middle", "font": "Roboto", "fontSize": 14, "color": "#26a69a", "text": "6.5K"},
              "encoding": {"x": {"datum": {"year":2023,"month":2,"date":20,"hours":21,"minutes":20,"utc":true}, "type": "temporal", "axis": null}, "y": {"datum": 0.05183, "type": "quantitative", "axis": null}}}
          ]
        }
      ]
    },
    {
      "width": 1595,
      "height": 134,
      "layer": [
        {"data": {"values": [{}]}, "mark": {"type": "rect", "color": "#7e57c2", "opacity": 0.1},
          "encoding": {"y": {"datum": 70, "type": "quantitative", "scale": {"domain": [24.06, 98.5], "zero": false, "nice": false}, "axis": null}, "y2": {"datum": 30}}},
        {"data": {"values": [{}]}, "mark": {"type": "rule", "color": "#787b86", "strokeDash": [5, 4], "strokeWidth": 1},
          "encoding": {"y": {"datum": 70, "type": "quantitative", "scale": {"domain": [24.06, 98.5], "zero": false, "nice": false}, "axis": null}}},
        {"data": {"values": [{}]}, "mark": {"type": "rule", "color": "#787b86", "strokeDash": [5, 4], "strokeWidth": 1},
          "encoding": {"y": {"datum": 30, "type": "quantitative", "scale": {"domain": [24.06, 98.5], "zero": false, "nice": false}, "axis": null}}},
        {"data": {"values": [{}]}, "mark": {"type": "rule", "color": "#787b86", "opacity": 0.5, "strokeDash": [5, 4], "strokeWidth": 1},
          "encoding": {"y": {"datum": 50, "type": "quantitative", "scale": {"domain": [24.06, 98.5], "zero": false, "nice": false}, "axis": null}}},
        {
          "mark": {"type": "line", "color": "#7e57c2", "strokeWidth": 1.2, "clip": true},
          "encoding": {
            "x": {"field": "t", "type": "temporal", "scale": {"type": "utc", "domain": [{"year":2023,"month":2,"date":20,"hours":21,"minutes":20,"utc":true},{"year":2023,"month":3,"date":13,"hours":4,"minutes":59,"utc":true}]},
              "axis": {"orient": "bottom", "values": [{"year":2023,"month":2,"date":22,"utc":true},{"year":2023,"month":2,"date":24,"utc":true},{"year":2023,"month":2,"date":25,"hours":12,"utc":true},{"year":2023,"month":2,"date":27,"utc":true},{"year":2023,"month":3,"date":1,"utc":true},{"year":2023,"month":3,"date":3,"utc":true},{"year":2023,"month":3,"date":4,"hours":12,"utc":true},{"year":2023,"month":3,"date":6,"utc":true},{"year":2023,"month":3,"date":8,"utc":true},{"year":2023,"month":3,"date":10,"utc":true},{"year":2023,"month":3,"date":11,"hours":12,"utc":true},{"year":2023,"month":3,"date":13,"utc":true}],
                "labels": false, "ticks": false, "grid": true, "gridColor": "#eef0f5", "domain": true, "domainColor": "#e0e3eb", "title": null}},
            "y": {"field": "rsi", "type": "quantitative", "scale": {"domain": [24.06, 98.5], "zero": false, "nice": false},
              "axis": {"orient": "right", "values": [25, 50, 75], "labels": false, "ticks": false, "grid": true, "gridColor": "#eef0f5", "domainColor": "#a3a6af", "title": null}}
          }
        },
        {
          "mark": {"type": "line", "color": "#fbe44b", "strokeWidth": 1.2, "clip": true},
          "encoding": {
            "x": {"field": "t", "type": "temporal", "scale": {"type": "utc", "domain": [{"year":2023,"month":2,"date":20,"hours":21,"minutes":20,"utc":true},{"year":2023,"month":3,"date":13,"hours":4,"minutes":59,"utc":true}]}, "axis": null},
            "y": {"field": "rma", "type": "quantitative", "scale": {"domain": [24.06, 98.5], "zero": false, "nice": false}, "axis": null}
          }
        },
        {"data": {"values": [{}]}, "mark": {"type": "text", "align": "left", "baseline": "middle", "font": "Roboto", "fontSize": 14, "color": "#131722", "text": "e, SMA, 14, 2)"},
          "encoding": {"x": {"datum": {"year":2023,"month":2,"date":20,"hours":21,"minutes":20,"utc":true}, "type": "temporal", "axis": null}, "y": {"datum": 87.8, "type": "quantitative", "axis": null}}},
        {"data": {"values": [{}]}, "mark": {"type": "text", "align": "left", "baseline": "middle", "font": "Roboto", "fontSize": 14, "color": "#7e57c2", "text": "44.92"},
          "encoding": {"x": {"datum": {"year":2023,"month":2,"date":22,"hours":4,"minutes":9,"utc":true}, "type": "temporal", "axis": null}, "y": {"datum": 87.8, "type": "quantitative", "axis": null}}},
        {"data": {"values": [{}]}, "mark": {"type": "text", "align": "left", "baseline": "middle", "font": "Roboto", "fontSize": 14, "color": "#f5d93a", "text": "43.86"},
          "encoding": {"x": {"datum": {"year":2023,"month":2,"date":22,"hours":18,"minutes":35,"utc":true}, "type": "temporal", "axis": null}, "y": {"datum": 87.8, "type": "quantitative", "axis": null}}},
        {"data": {"values": [{}]}, "mark": {"type": "text", "align": "left", "baseline": "middle", "font": "Roboto", "fontSize": 14, "color": "#131722", "text": "∅"},
          "encoding": {"x": {"datum": {"year":2023,"month":2,"date":23,"hours":8,"minutes":39,"utc":true}, "type": "temporal", "axis": null}, "y": {"datum": 87.8, "type": "quantitative", "axis": null}}},
        {"data": {"values": [{}]}, "mark": {"type": "text", "align": "left", "baseline": "middle", "font": "Roboto", "fontSize": 14, "color": "#131722", "text": "∅"},
          "encoding": {"x": {"datum": {"year":2023,"month":2,"date":23,"hours":14,"minutes":27,"utc":true}, "type": "temporal", "axis": null}, "y": {"datum": 87.8, "type": "quantitative", "axis": null}}}
      ]
    },
    {
      "width": 1595,
      "height": 143,
      "resolve": {"axis": {"x": "independent"}},
      "layer": [
        {
          "transform": [
            {"window": [{"op": "lag", "field": "hist", "as": "hp"}], "sort": [{"field": "t"}]},
            {"filter": "isValid(datum.o)"}
          ],
          "mark": {"type": "bar", "size": 11.5},
          "encoding": {
            "x": {"field": "t", "type": "temporal", "scale": {"type": "utc", "domain": [{"year":2023,"month":2,"date":20,"hours":21,"minutes":20,"utc":true},{"year":2023,"month":3,"date":13,"hours":4,"minutes":59,"utc":true}]}, "axis": null},
            "y": {"field": "hist", "type": "quantitative", "scale": {"domain": [-0.00247, 0.007154], "zero": false, "nice": false}, "axis": null},
            "y2": {"datum": 0},
            "color": {"condition": [
              {"test": "datum.hist >= 0 && datum.hp < datum.hist", "value": "#26a69a"},
              {"test": "datum.hist >= 0", "value": "#b2dfdb"},
              {"test": "datum.hp < datum.hist", "value": "#ffcdd2"}
            ], "value": "#ff5252"}
          }
        },
        {"data": {"values": [{}]}, "mark": {"type": "rule", "color": "#787b86", "opacity": 0.5, "strokeDash": [4, 4], "strokeWidth": 1},
          "encoding": {"y": {"datum": 0, "type": "quantitative", "scale": {"domain": [-0.00247, 0.007154], "zero": false, "nice": false}, "axis": null}}},
        {
          "mark": {"type": "line", "color": "#2962ff", "strokeWidth": 1.2, "clip": true},
          "encoding": {
            "x": {"field": "t", "type": "temporal", "scale": {"type": "utc", "domain": [{"year":2023,"month":2,"date":20,"hours":21,"minutes":20,"utc":true},{"year":2023,"month":3,"date":13,"hours":4,"minutes":59,"utc":true}]},
              "axis": {"orient": "bottom", "values": [{"year":2023,"month":2,"date":22,"utc":true},{"year":2023,"month":2,"date":24,"utc":true},{"year":2023,"month":2,"date":25,"hours":12,"utc":true},{"year":2023,"month":2,"date":27,"utc":true},{"year":2023,"month":3,"date":1,"utc":true},{"year":2023,"month":3,"date":3,"utc":true},{"year":2023,"month":3,"date":4,"hours":12,"utc":true},{"year":2023,"month":3,"date":6,"utc":true},{"year":2023,"month":3,"date":8,"utc":true},{"year":2023,"month":3,"date":10,"utc":true},{"year":2023,"month":3,"date":11,"hours":12,"utc":true},{"year":2023,"month":3,"date":13,"utc":true}],
                "labelExpr": "utchours(datum.value) == 12 ? '12:00' : (utcdate(datum.value) == 1 ? 'Mar' : '' + utcdate(datum.value))",
                "labelFontWeight": {"condition": {"test": "utcdate(datum.value) == 1 && utchours(datum.value) == 0", "value": "bold"}, "value": "normal"},
                "labelFont": "Roboto", "labelFontSize": 13, "labelColor": "#131722", "labelPadding": 10,
                "labelFlush": false, "labelOverlap": false, "labelBound": false,
                "ticks": false, "grid": true, "gridColor": "#eef0f5", "domain": true, "domainColor": "#e0e3eb",
                "title": "iew", "titleAnchor": "start", "titleAlign": "left", "titleX": 0, "titleY": 58, "titleBaseline": "middle",
                "titleFont": "Roboto", "titleFontSize": 15, "titleFontWeight": "normal", "titleColor": "#2a2e39"}},
            "y": {"field": "macd", "type": "quantitative", "scale": {"domain": [-0.00247, 0.007154], "zero": false, "nice": false},
              "axis": {"orient": "right", "values": [0, 0.005], "labels": false, "ticks": false, "grid": true, "gridColor": "#eef0f5", "domainColor": "#a3a6af", "title": null}}
          }
        },
        {
          "mark": {"type": "line", "color": "#ff6d00", "strokeWidth": 1.2, "clip": true},
          "encoding": {
            "x": {"field": "t", "type": "temporal", "scale": {"type": "utc", "domain": [{"year":2023,"month":2,"date":20,"hours":21,"minutes":20,"utc":true},{"year":2023,"month":3,"date":13,"hours":4,"minutes":59,"utc":true}]},
              "axis": {"orient": "top", "offset": -177, "labels": false, "ticks": false, "grid": false, "domain": true, "domainColor": "#dfe2ea", "domainWidth": 2, "title": null}},
            "y": {"field": "sig", "type": "quantitative", "scale": {"domain": [-0.00247, 0.007154], "zero": false, "nice": false}, "axis": null}
          }
        },
        {"data": {"values": [{}]}, "mark": {"type": "text", "align": "left", "baseline": "middle", "font": "Roboto", "fontSize": 14, "color": "#131722", "text": "6, close, 9, EMA, EMA)"},
          "encoding": {"x": {"datum": {"year":2023,"month":2,"date":20,"hours":21,"minutes":20,"utc":true}, "type": "temporal", "axis": null}, "y": {"datum": 0.005673, "type": "quantitative", "axis": null}}},
        {"data": {"values": [{}]}, "mark": {"type": "text", "align": "left", "baseline": "middle", "font": "Roboto", "fontSize": 14, "color": "#ffcdd2", "text": "−0.000244"},
          "encoding": {"x": {"datum": {"year":2023,"month":2,"date":22,"hours":21,"minutes":29,"utc":true}, "type": "temporal", "axis": null}, "y": {"datum": 0.005673, "type": "quantitative", "axis": null}}},
        {"data": {"values": [{}]}, "mark": {"type": "text", "align": "left", "baseline": "middle", "font": "Roboto", "fontSize": 14, "color": "#2962ff", "text": "−0.001351"},
          "encoding": {"x": {"datum": {"year":2023,"month":2,"date":23,"hours":20,"minutes":52,"utc":true}, "type": "temporal", "axis": null}, "y": {"datum": 0.005673, "type": "quantitative", "axis": null}}},
        {"data": {"values": [{}]}, "mark": {"type": "text", "align": "left", "baseline": "middle", "font": "Roboto", "fontSize": 14, "color": "#ff6d00", "text": "−0.001107"},
          "encoding": {"x": {"datum": {"year":2023,"month":2,"date":24,"hours":20,"minutes":54,"utc":true}, "type": "temporal", "axis": null}, "y": {"datum": 0.005673, "type": "quantitative", "axis": null}}}
      ]
    }
  ],
  "config": {
    "view": {"stroke": null},
    "font": "Roboto"
  }
}
